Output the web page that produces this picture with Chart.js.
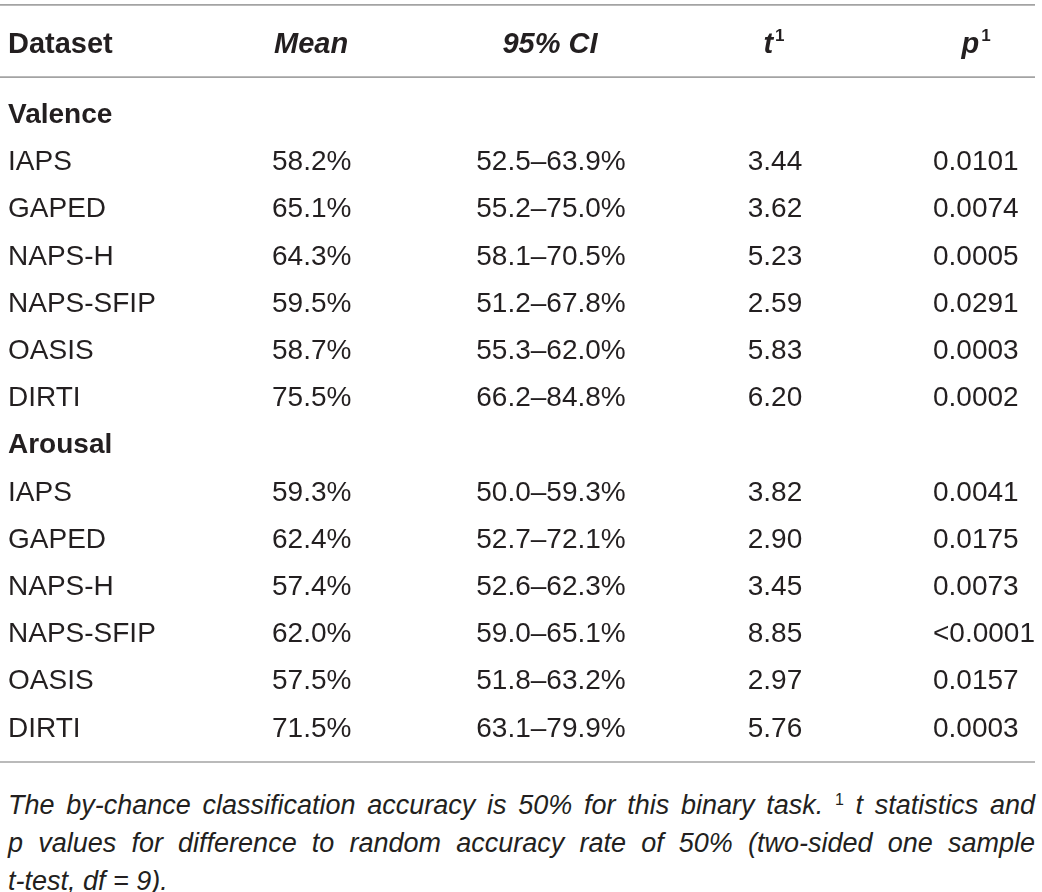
<!DOCTYPE html>
<html>
<head>
<meta charset="utf-8">
<script src="https://cdn.jsdelivr.net/npm/chart.js@4"></script>
<style>
  html, body { margin: 0; padding: 0; background: #fff; overflow: hidden; }
  #wrap { position: relative; width: 1042px; height: 775px; }
  .note {
    font-family: "Liberation Sans", Arial, sans-serif;
    font-style: italic;
    font-size: 27px;
    line-height: 38px;
    color: #231f20;
    padding: 11px 7px 0 8px;
  }
  .note .j { text-align: justify; text-align-last: justify; }
  .note sup { font-style: normal; font-size: 16px; vertical-align: 9px; line-height: 0; }
</style>
</head>
<body>
<div id="wrap"><canvas id="tabel"></canvas></div>
<div class="note">
  <div class="j">The by-chance classification accuracy is 50% for this binary task. <sup>1</sup> t statistics and</div>
  <div class="j">p values for difference to random accuracy rate of 50% (two-sided one sample</div>
  <div>t-test, df = 9).</div>
</div>
<script>
// kolom dan data tabel
const columns = ['Dataset', 'Mean', '95% CI', 't', 'p'];
const columnSup = ['', '', '', '1', '1'];
const groups = ['Valence', 'Arousal'];
const datasetNames = ['IAPS', 'GAPED', 'NAPS-H', 'NAPS-SFIP', 'OASIS', 'DIRTI'];

const valenceMean = [58.2, 65.1, 64.3, 59.5, 58.7, 75.5];
const valenceLow = [52.5, 55.2, 58.1, 51.2, 55.3, 66.2];
const valenceHigh = [63.9, 75.0, 70.5, 67.8, 62.0, 84.8];
const valenceT = [3.44, 3.62, 5.23, 2.59, 5.83, 6.20];
const valenceP = ['0.0101', '0.0074', '0.0005', '0.0291', '0.0003', '0.0002'];

const arousalMean = [59.3, 62.4, 57.4, 62.0, 57.5, 71.5];
const arousalLow = [50.0, 52.7, 52.6, 59.0, 51.8, 63.1];
const arousalHigh = [59.3, 72.1, 62.3, 65.1, 63.2, 79.9];
const arousalT = [3.82, 2.90, 3.45, 8.85, 2.97, 5.76];
const arousalP = ['0.0041', '0.0175', '0.0073', '<0.0001', '0.0157', '0.0003'];

// tata letak (posisi kolom di sumbu x, 0..1042)
const colX = [8, 272, 551, 775, 933];
const colAlign = ['left', 'left', 'center', 'center', 'left'];
const headX = [8, 274, 550, 774, 976];
const headAlign = ['left', 'left', 'center', 'center', 'center'];

const fontFam = '"Liberation Sans", Arial, sans-serif';
const textColor = '#231f20';
const ruleColor = '#a3a3a3';

// susun baris tabel
const rows = [];
function addGroup(name, mean, low, high, tv, pv) {
  rows.push({ group: true, cells: [name] });
  datasetNames.forEach((d, i) => {
    rows.push({
      group: false,
      cells: [d, mean[i].toFixed(1) + '%', low[i].toFixed(1) + '\u2013' + high[i].toFixed(1) + '%', tv[i].toFixed(2), pv[i]]
    });
  });
}
addGroup(groups[0], valenceMean, valenceLow, valenceHigh, valenceT, valenceP);
addGroup(groups[1], arousalMean, arousalLow, arousalHigh, arousalT, arousalP);

const headerRow = -1.5;
const rules = [-2.29, -0.76, 13.75];

const tablePlugin = {
  id: 'tablePlugin',
  afterDatasetsDraw(chart) {
    const ctx = chart.ctx;
    const xs = chart.scales.x, ys = chart.scales.y;
    ctx.save();

    // garis horizontal
    ctx.strokeStyle = ruleColor;
    ctx.lineWidth = 1.6;
    rules.forEach(r => {
      const y = ys.getPixelForValue(r);
      ctx.beginPath();
      ctx.moveTo(xs.getPixelForValue(0), y);
      ctx.lineTo(xs.getPixelForValue(1035), y);
      ctx.stroke();
    });

    ctx.fillStyle = textColor;
    ctx.textBaseline = 'alphabetic';

    // header
    const hy = ys.getPixelForValue(headerRow);
    columns.forEach((c, ci) => {
      const mainFont = (ci === 0 ? 'bold ' : 'italic bold ') + '29px ' + fontFam;
      const supFont = 'bold 17px ' + fontFam;
      ctx.font = mainFont;
      const w1 = ctx.measureText(c).width;
      ctx.font = supFont;
      const w2 = columnSup[ci] ? ctx.measureText(columnSup[ci]).width + 2 : 0;
      const total = w1 + w2;
      let x0 = xs.getPixelForValue(headX[ci]);
      if (headAlign[ci] === 'center') x0 -= total / 2;
      if (headAlign[ci] === 'right') x0 -= total;
      ctx.textAlign = 'left';
      ctx.font = mainFont;
      ctx.fillText(c, x0, hy + 10.5);
      if (columnSup[ci]) {
        ctx.font = supFont;
        ctx.fillText(columnSup[ci], x0 + w1 + 2, hy - 1);
      }
    });

    // sel data, diposisikan dari elemen titik dataset
    chart.data.datasets.forEach((ds, ci) => {
      const meta = chart.getDatasetMeta(ci);
      meta.data.forEach((pt, ri) => {
        const row = rows[ri];
        const txt = row.cells[ci];
        if (txt === undefined) return;
        ctx.font = (row.group ? 'bold 28px ' : '28px ') + fontFam;
        ctx.textAlign = colAlign[ci];
        ctx.fillText(txt, pt.x, pt.y + 10);
      });
    });
    ctx.restore();
  }
};

new Chart(document.getElementById('tabel'), {
  type: 'scatter',
  data: {
    datasets: columns.map((c, ci) => ({
      label: c,
      data: rows.map((r, ri) => ({ x: colX[ci], y: ri })),
      pointRadius: 0,
      pointHoverRadius: 0
    }))
  },
  options: {
    responsive: true,
    maintainAspectRatio: false,
    animation: false,
    layout: { padding: 0 },
    plugins: { legend: { display: false }, tooltip: { enabled: false } },
    scales: {
      x: { type: 'linear', min: 0, max: 1042, display: false },
      y: { type: 'linear', reverse: true, min: -2.394, max: 14.025, display: false }
    }
  },
  plugins: [tablePlugin]
});
</script>
</body>
</html>
